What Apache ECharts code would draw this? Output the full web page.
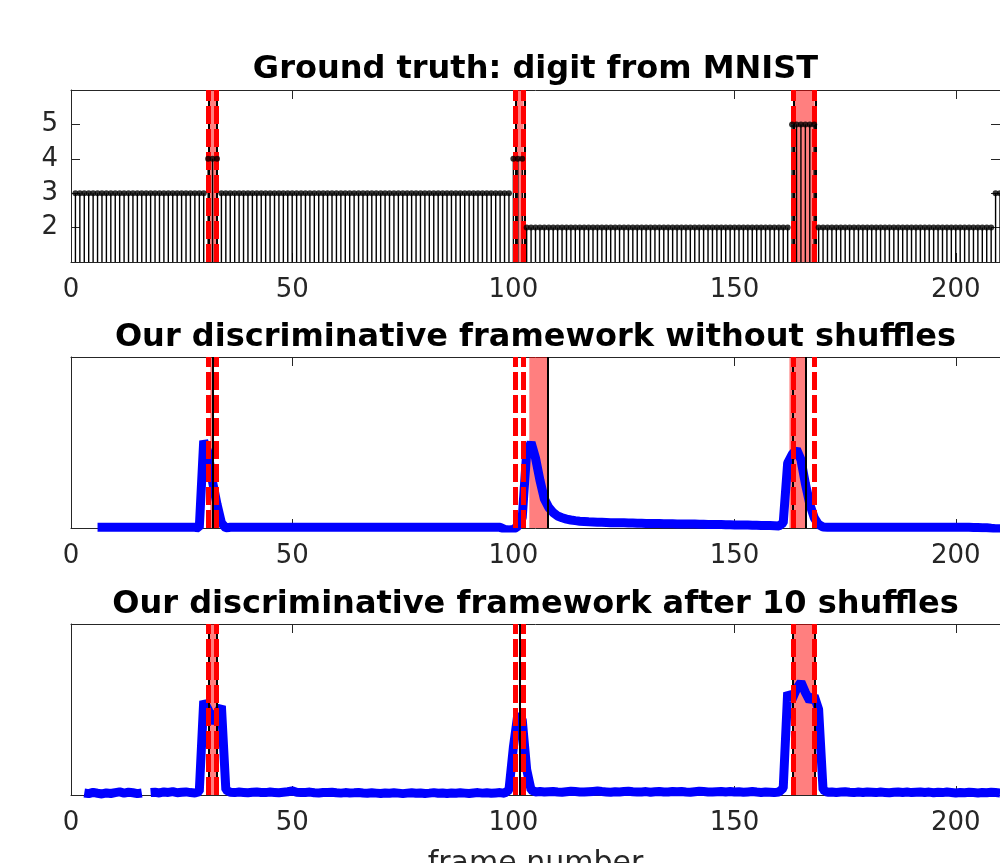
<!DOCTYPE html>
<html><head><meta charset="utf-8">
<script src="https://cdn.jsdelivr.net/npm/echarts@6/dist/echarts.min.js"></script>
<style>html,body{margin:0;padding:0;background:#fff}#c{width:1000px;height:863px}</style>
</head><body><div id="c"></div>
<script>
const xTicks = [0, 50, 100, 150, 200];
const digitTicks = [2, 3, 4, 5];
const titles = ['Ground truth: digit from MNIST', 'Our discriminative framework without shuffles', 'Our discriminative framework after 10 shuffles'];
const xLabel = 'frame number';

// digit per frame (frames 1..210)
const digits = [
3,3,3,3,3,3,3,3,3,3, 3,3,3,3,3,3,3,3,3,3, 3,3,3,3,3,3,3,3,3,3,
4,4,4,
3,3,3,3,3,3,3,3,3,3, 3,3,3,3,3,3,3,3,3,3, 3,3,3,3,3,3,3,3,3,3,
3,3,3,3,3,3,3,3,3,3, 3,3,3,3,3,3,3,3,3,3, 3,3,3,3,3,3,3,3,3,3,
3,3,3,3,3,3,
4,4,4,
2,2,2,2,2,2,2,2,2,2, 2,2,2,2,2,2,2,2,2,2, 2,2,2,2,2,2,2,2,2,2,
2,2,2,2,2,2,2,2,2,2, 2,2,2,2,2,2,2,2,2,2, 2,2,2,2,2,2,2,2,2,2,
5,5,5,5,5,5,
2,2,2,2,2,2,2,2,2,2, 2,2,2,2,2,2,2,2,2,2, 2,2,2,2,2,2,2,2,2,2, 2,2,2,2,2,2,2,2,2,2,
3,3
];

// score without shuffles (frames 1..210)
const scoreNoShuffle = [
null,null,null,null,null,
0.004,0.004,0.004,0.004,0.004,0.004,0.004,0.004,0.004,0.004,
0.004,0.004,0.004,0.004,0.004,0.004,0.004,0.004,0.004,0.004,0.004,0.004,0.004,
0.0,0.51,0.44,0.27,0.14,0.03,0.0,
0.004,0.004,0.004,0.004,0.004,0.004,0.004,0.004,0.004,0.004,
0.004,0.004,0.004,0.004,0.004,0.004,0.004,0.004,0.004,0.004,
0.004,0.004,0.004,0.004,0.004,0.004,0.004,0.004,0.004,0.004,
0.004,0.004,0.004,0.004,0.004,0.004,0.004,0.004,0.004,0.004,
0.004,0.004,0.004,0.004,0.004,0.004,0.004,0.004,0.004,0.004,
0.004,0.004,0.004,0.004,0.004,0.004,0.004,0.004,0.004,0.004,
0.004,0.004,
-0.008,-0.012,-0.008,0.01,0.06,0.44,0.50,0.41,0.28,0.17,0.12,0.09,0.07,
0.06,0.052,0.047,0.043,0.040,0.038,0.036,0.035,0.034,0.033,
0.032,0.031,0.031,0.030,0.030,0.029,0.029,0.028,0.028,0.027,
0.027,0.026,0.026,0.025,0.025,0.025,0.024,0.024,0.024,0.023,
0.023,0.022,0.022,0.021,0.021,0.020,0.020,0.019,0.019,0.018,
0.018,0.017,0.017,0.016,0.016,0.015,0.015,0.014,0.013,0.012,
0.03,0.38,0.43,0.46,0.40,0.26,0.14,0.06,0.02,0.006,
0.005,0.005,0.005,0.005,0.005,0.005,0.005,0.005,0.005,0.005,
0.005,0.005,0.005,0.005,0.005,0.005,0.005,0.005,0.005,0.005,
0.005,0.005,0.005,0.005,0.005,0.005,0.005,0.005,0.005,0.005,
0.004,0.004,0.004,0.003,0.003,0.002,0.001,
-0.002,-0.004,-0.004
];

// score after 10 shuffles (frames 1..210)
const scoreShuffle10 = [
null,null,
0.012,0.008,0.015,0.010,0.006,0.012,0.009,0.014,0.018,0.011,0.016,0.013,0.008,0.012,
null,
0.014,0.016,0.012,0.018,0.015,0.020,0.013,0.016,0.018,0.014,0.012,
0.02,0.55,0.50,0.42,0.48,0.52,0.03,
0.016,0.014,0.017,0.015,0.013,0.016,0.018,0.015,0.014,0.017,
0.015,0.013,0.016,0.019,0.024,0.016,0.014,0.015,0.017,0.013,
0.012,0.015,0.014,0.016,0.013,0.011,0.014,0.012,0.013,0.015,
0.012,0.010,0.013,0.011,0.009,0.012,0.010,0.013,0.011,0.008,
0.011,0.013,0.010,0.012,0.009,0.011,0.014,0.010,0.012,0.009,
0.012,0.010,0.013,0.011,0.009,0.012,0.014,0.011,0.013,0.010,
0.012,0.014,
0.01,0.03,0.28,0.47,0.44,0.15,0.03,
0.018,0.020,0.017,0.019,0.021,0.018,0.016,0.019,0.022,0.020,
0.018,0.017,0.019,0.021,0.023,0.020,0.018,0.016,0.019,0.017,
0.020,0.022,0.019,0.017,0.018,0.020,0.016,0.019,0.021,0.018,
0.017,0.020,0.019,0.021,0.018,0.016,0.019,0.022,0.020,0.018,
0.017,0.019,0.021,0.018,0.020,0.017,0.019,0.016,0.018,0.020,
0.017,0.015,0.018,0.016,0.014,0.017,
0.04,0.60,0.56,0.62,0.66,0.60,0.55,0.58,0.50,0.03,
0.016,0.018,0.015,0.017,0.019,0.016,0.014,0.017,0.015,0.018,
0.016,0.014,0.017,0.015,0.013,0.016,0.018,0.015,0.017,0.014,
0.016,0.018,0.015,0.017,0.013,0.016,0.014,0.017,0.015,0.012,
0.015,0.013,0.016,0.014,0.012,0.015,0.013,0.016,0.014,0.012
];

const truthBounds = [31.1, 32.9, 100.5, 102.3, 163.2, 168.1];
const shadeTruth = [[31.1, 32.9], [100.5, 102.3], [163.2, 168.1]];
const shadeNoShuffle = [[31.5, 32.0], [103.6, 107.7], [162.4, 166.2]];
const shadeShuffle10 = [[31.1, 32.9], [163.2, 168.1]];
const blackTruth = [31.1, 32.9, 100.5, 102.6, 163.3, 168.3];
const blackNoShuffle = [32.0, 107.7, 163.2, 166.2];
const blackShuffle10 = [31.1, 32.9, 101.4, 163.2, 168.1];

const FONT = 'DejaVu Sans';
const AX = '#262626';
const toXY = arr => arr.map((v, i) => [i + 1, v]);

const gridTops = [90, 357, 624];
const gridHeights = [172, 171, 171];
const titleTops = [54, 322, 589];

const grids = gridTops.map((t, i) => ({ left: 71, right: 0, top: t, height: gridHeights[i], containLabel: false, outerBoundsMode: 'none' }));

const xAxes = [];
const yAxes = [];
for (let g = 0; g < 3; g++) {
  const base = {
    type: 'value', gridIndex: g, min: 0, max: 210, interval: 50,
    axisLine: { show: true, onZero: false, lineStyle: { color: AX, width: 1 } },
    axisTick: { show: true, inside: true, length: 9, lineStyle: { color: AX, width: 1 } },
    splitLine: { show: false }
  };
  xAxes.push(Object.assign({}, base, {
    position: 'bottom',
    axisLabel: { show: true, margin: 15, fontSize: 26, fontFamily: FONT, color: AX, showMaxLabel: false,
      formatter: v => (xTicks.includes(v) ? String(v) : '') },
    name: g === 2 ? xLabel : '', nameLocation: 'middle', nameGap: 54,
    nameTextStyle: { fontFamily: FONT, fontSize: 30, color: AX }
  }));
  xAxes.push(Object.assign({}, base, { position: 'top', axisLabel: { show: false } }));
  const isDigit = g === 0;
  const ybase = {
    type: 'value', gridIndex: g,
    min: isDigit ? 1 : 0, max: isDigit ? 6 : 1, interval: 1,
    axisLine: { show: true, onZero: false, lineStyle: { color: AX, width: 1 } },
    axisTick: { show: isDigit, inside: true, length: 9, lineStyle: { color: AX, width: 1 } },
    splitLine: { show: false }
  };
  yAxes.push(Object.assign({}, ybase, {
    position: 'left',
    axisLabel: { show: isDigit, margin: 13, fontSize: 26, fontFamily: FONT, color: AX,
      formatter: v => (digitTicks.includes(v) ? String(v) : '') }
  }));
  yAxes.push(Object.assign({}, ybase, { position: 'right', axisLabel: { show: false } }));
}

function areaSeries(g, shades) {
  return {
    type: 'line', xAxisIndex: 2 * g, yAxisIndex: 2 * g, data: [], z: 1, silent: true,
    markArea: { silent: true, itemStyle: { color: 'rgba(255,0,0,0.5)' },
      data: shades.map(([a, b]) => [{ xAxis: a }, { xAxis: b }]) }
  };
}
function lineMarks(g, blacks) {
  return {
    type: 'line', xAxisIndex: 2 * g, yAxisIndex: 2 * g, data: [], z: 6, silent: true,
    markLine: {
      silent: true, symbol: ['none', 'none'], label: { show: false }, animation: false,
      data: blacks.map(x => ({ xAxis: x, lineStyle: { color: '#000', width: 2, type: 'solid' } }))
        .concat(truthBounds.map(x => ({ xAxis: x, lineStyle: { color: '#ff0000', width: 5, type: [18, 5] } })))
    }
  };
}

const series = [
  areaSeries(0, shadeTruth),
  { type: 'bar', xAxisIndex: 0, yAxisIndex: 0, data: toXY(digits), barWidth: 1.4, z: 2,
    itemStyle: { color: '#000' }, clip: true },
  { type: 'scatter', xAxisIndex: 0, yAxisIndex: 0, data: toXY(digits), symbolSize: 6, z: 8,
    itemStyle: { color: '#000' } },
  lineMarks(0, blackTruth),
  areaSeries(1, shadeNoShuffle),
  { type: 'line', xAxisIndex: 2, yAxisIndex: 2, data: toXY(scoreNoShuffle), z: 3, symbol: 'none',
    lineStyle: { color: '#0000ff', width: 9 }, connectNulls: false },
  lineMarks(1, blackNoShuffle),
  areaSeries(2, shadeShuffle10),
  { type: 'line', xAxisIndex: 4, yAxisIndex: 4, data: toXY(scoreShuffle10), z: 3, symbol: 'none',
    lineStyle: { color: '#0000ff', width: 9 }, connectNulls: false },
  lineMarks(2, blackShuffle10)
];

const chart = echarts.init(document.getElementById('c'), null, { renderer: 'canvas' });
chart.setOption({
  animation: false,
  backgroundColor: '#fff',
  title: titles.map((t, i) => ({
    text: t, left: 535.5, top: titleTops[i], textAlign: 'center', padding: 0,
    textStyle: { fontFamily: FONT, fontWeight: 'bold', fontSize: 32, color: '#000', lineHeight: 32 }
  })),
  grid: grids,
  xAxis: xAxes,
  yAxis: yAxes,
  series: series
});
</script>
</body></html>
